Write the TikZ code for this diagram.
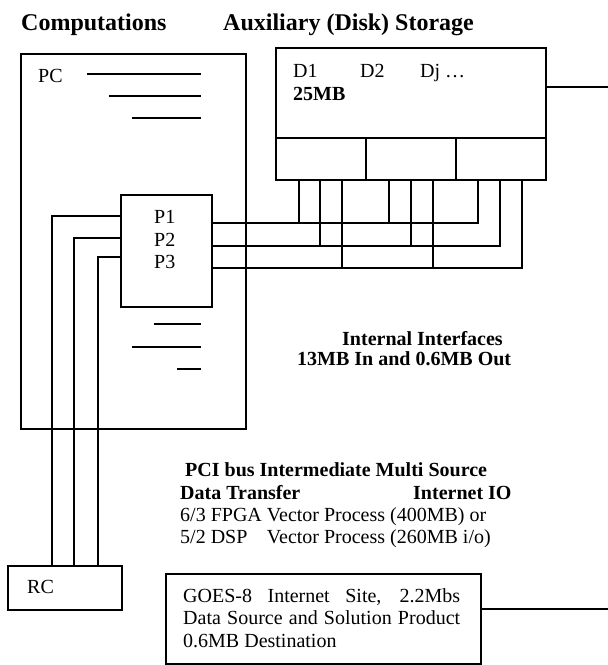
\documentclass[tikz,border=0pt]{standalone}
\usepackage{fontspec}
\setmainfont{Liberation Serif}
\usetikzlibrary{positioning}
\tikzset{
  unitbox/.style={draw=black,line width=1.5pt,inner sep=0pt,anchor=north west},
  bus/.style={line width=1.5pt,black},
  tick/.style={line width=1.7pt,black},
  lbl/.style={inner sep=0pt,anchor=base west,font=\fontsize{20}{22.5}\selectfont},
  blbl/.style={lbl,font=\fontsize{20}{22.5}\selectfont\bfseries},
  head/.style={inner sep=0pt,anchor=base west,font=\fontsize{24}{28}\selectfont\bfseries},
}

\begin{document}
\begin{tikzpicture}[x=1pt,y=-1pt]
  \useasboundingbox (0,0) rectangle (608,665);
  % headings
  \node[head] (comp) at (21,30) {Computations};
  \node[head] (aux) at (223,30) {Auxiliary (Disk) Storage};
  % computer
  \node[unitbox,minimum width=225pt,minimum height=375pt] (pc) at (20,53) {};
  \node[lbl] (pclbl) at (38,82) {PC};
  \draw[tick] (87,74) -- (201,74);
  \draw[tick] (109,96) -- (201,96);
  \draw[tick] (132,118) -- (201,118);
  \draw[tick] (154,324) -- (201,324);
  \draw[tick] (132,347) -- (201,347);
  \draw[tick] (177,369) -- (201,369);
  \node[unitbox,minimum width=91pt,minimum height=112pt] (p) at (120,194) {};
  \node[lbl] (p1) at (154,223) {P1};
  \node[lbl] (p2) at (154,246) {P2};
  \node[lbl] (p3) at (154,268) {P3};
  % disk storage
  \node[unitbox,minimum width=270pt,minimum height=132pt] (disk) at (275,47) {};
  \draw[bus] (disk.west |- 0,138) -- (disk.east |- 0,138);
  \draw[bus] (366,138) -- (366,0 |- disk.south);
  \draw[bus] (456,138) -- (456,0 |- disk.south);
  \node[lbl] (d1) at (293,77) {D1};
  \node[lbl] (d2) at (360,77) {D2};
  \node[lbl] (dj) at (420,77) {Dj \ldots};
  \node[blbl] (dsize) at (293,100) {25MB};
  \coordinate (diskend) at (608,87);
  \draw[bus] (disk.east |- diskend) -- (diskend);
  % internal interfaces
  \foreach \yy/\xa/\xb/\xc in {223/299/389/478,246/320/411/500,268/342/433/522}{
    \draw[bus] (p.east |- 0,\yy) -| (\xc,0 |- disk.south);
    \draw[bus] (\xa,0 |- disk.south) -- (\xa,\yy);
    \draw[bus] (\xb,0 |- disk.south) -- (\xb,\yy);
  }
  \node[blbl] (intf) at (342,345) {Internal Interfaces};
  \node[blbl] (intmb) at (297,365) {13MB In and 0.6MB Out};
  % remote computer
  \node[unitbox,minimum width=114pt,minimum height=44pt] (rc) at (7,565) {};
  \node[lbl] (rclbl) at (27,593) {RC};
  \foreach \yy/\xx in {216/52,238/74,257/98}{
    \draw[bus] (p.west |- 0,\yy) -| (\xx,0 |- rc.north);
  }
  % pci bus text
  \node[blbl] (pci) at (185,476) {PCI bus Intermediate Multi Source};
  \node[blbl] (xfer) at (180,499) {Data Transfer};
  \node[blbl] (netio) at (413,499) {Internet IO};
  \node[lbl] (fpga) at (180,521) {6/3 FPGA Vector Process (400MB) or};
  \node[lbl] (dsp) at (180,543) {\rlap{5/2 DSP}\phantom{6/3 FPGA }Vector Process (260MB i/o)};
  % internet site
  \node[unitbox,minimum width=315pt,minimum height=90pt] (goes) at (165,573) {};
  \node[lbl] (goesa) at (183,602) {\makebox[277pt][s]{GOES-8 Internet Site, 2.2Mbs}};
  \node[lbl] (goesb) at (183,624) {\makebox[277pt][s]{Data Source and Solution Product}};
  \node[lbl] (goesc) at (183,647) {0.6MB Destination};
  \coordinate (goesend) at (608,609);
  \draw[bus] (goes.east |- goesend) -- (goesend);
\end{tikzpicture}
\end{document}
